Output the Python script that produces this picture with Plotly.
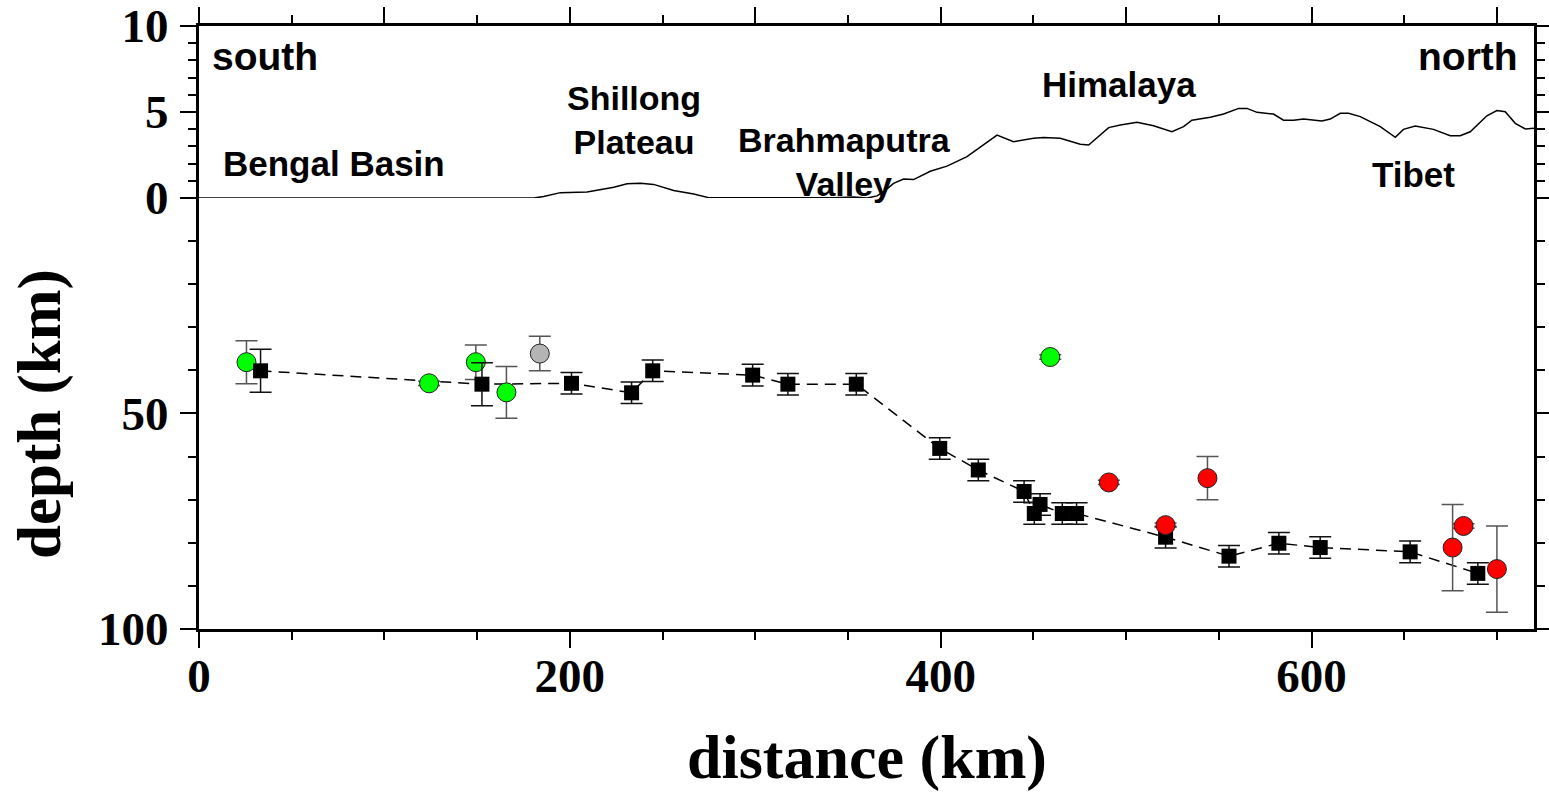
import plotly.graph_objects as go

# ---------------- data ----------------
topo_km = [0, 162.6, 180.5, 185.9, 194.9, 209.3, 223.7, 230.9, 238.1, 245.2, 256.0, 266.8,
           274.9, 342.1, 353.1, 360.3, 365.7, 369.3, 374.6, 380.0, 385.4, 394.4, 403.4,
           414.2, 423.2, 430.4, 439.3, 450.1, 455.5, 464.5, 475.3, 479.8, 490.6, 496.9,
           505.9, 514.8, 524.7, 531.0, 535.5, 545.4, 552.6, 560.7, 565.2, 570.6, 579.5,
           584.9, 590.3, 595.7, 605.6, 610.1, 615.5, 620.0, 626.3, 637.1, 645.2, 649.6,
           655.9, 665.8, 674.8, 680.2, 685.6, 694.6, 700.0, 704.5, 709.9, 715.3, 720.0]
topo_elev = [0, 0, 0, 0.08, 0.31, 0.35, 0.62, 0.83, 0.85, 0.79, 0.43, 0.23,
             0.02, 0.02, 0.06, 0.0, 0.12, 0.37, 0.85, 1.1, 1.07, 1.55, 1.85,
             2.4, 3.08, 3.66, 3.27, 3.47, 3.51, 3.47, 3.12, 3.08, 4.09, 4.24,
             4.40, 4.20, 3.85, 4.15, 4.52, 4.69, 4.88, 5.21, 5.21, 4.98, 4.88,
             4.52, 4.52, 4.59, 4.48, 4.59, 4.92, 4.92, 4.73, 4.15, 3.53, 3.99,
             4.19, 3.99, 3.62, 3.62, 3.85, 4.78, 5.08, 5.02, 4.34, 4.01, 4.05]

sq_km = [33.2, 152.6, 200.9, 233.3, 244.7, 298.6, 317.6, 354.5, 399.5, 420.3, 445.0,
         450.5, 453.6, 465.6, 473.3, 521.3, 555.5, 582.4, 604.7, 653.2, 689.7]
sq_depth = [40.1, 43.2, 43.0, 45.2, 40.1, 41.1, 43.2, 43.2, 58.1, 63.1, 68.1,
            73.2, 71.1, 73.2, 73.2, 78.7, 83.1, 80.1, 81.1, 82.1, 87.1]
sq_err = [5, 5, 2.5, 2.5, 2.5, 2.5, 2.5, 2.5, 2.5, 2.5, 2.5,
          2.5, 2.5, 2.5, 2.5, 2.5, 2.5, 2.5, 2.5, 2.5, 2.5]

green_km = [25.6, 124.1, 149.3, 165.8, 459.1]
green_depth = [38.1, 43.0, 38.1, 45.1, 36.9]
green_err = [5, 0.5, 4, 6, 0.5]

grey_km = [183.8]
grey_depth = [36.1]
grey_err = [4]

red_km = [490.7, 521.3, 543.9, 676.1, 682.0, 700.0]
red_depth = [66.0, 75.9, 65.0, 81.1, 76.1, 86.1]
red_err = [0.5, 0.5, 5, 10, 0.5, 10]

labels = [
    # text, km, elevation, xanchor, size
    ("south", 5.7, 8.2, "left", 39),
    ("north", 712.6, 8.2, "right", 39),
    ("Bengal Basin", 73.0, 2.03, "center", 35),
    ("Shillong<br>Plateau", 234.8, 4.53, "center", 34),
    ("Brahmaputra<br>Valley", 348.3, 2.09, "center", 34),
    ("Himalaya", 496.3, 6.57, "center", 35),
    ("Tibet", 654.9, 1.34, "center", 35),
]

# ---------------- figure ----------------
fig = go.Figure()

fig.add_trace(go.Scatter(x=topo_km, y=topo_elev, mode="lines",
                         line=dict(color="black", width=1.5),
                         xaxis="x2", yaxis="y", showlegend=False))

fig.add_trace(go.Scatter(x=sq_km, y=sq_depth, mode="lines",
                         line=dict(color="black", width=1.5, dash="11px,7px"),
                         xaxis="x", yaxis="y2", showlegend=False))

circ_err = dict(type="data", visible=True, thickness=1.5, width=11, color="#555555")

fig.add_trace(go.Scatter(x=green_km, y=green_depth, mode="markers",
                         marker=dict(symbol="circle", size=19, color="#00ff00",
                                     line=dict(color="#222222", width=1)),
                         error_y=dict(array=green_err, **circ_err),
                         xaxis="x", yaxis="y2", showlegend=False))
fig.add_trace(go.Scatter(x=grey_km, y=grey_depth, mode="markers",
                         marker=dict(symbol="circle", size=19, color="#b4b4b4",
                                     line=dict(color="#222222", width=1)),
                         error_y=dict(array=grey_err, **circ_err),
                         xaxis="x", yaxis="y2", showlegend=False))
fig.add_trace(go.Scatter(x=sq_km, y=sq_depth, mode="markers",
                         marker=dict(symbol="square", size=15, color="black",
                                     line=dict(color="black", width=0)),
                         error_y=dict(type="data", array=sq_err, visible=True,
                                      thickness=1.5, width=11, color="#111111"),
                         xaxis="x", yaxis="y2", showlegend=False))
fig.add_trace(go.Scatter(x=red_km, y=red_depth, mode="markers",
                         marker=dict(symbol="circle", size=19, color="#ff0000",
                                     line=dict(color="#222222", width=1)),
                         error_y=dict(array=red_err, **circ_err),
                         xaxis="x", yaxis="y2", showlegend=False))

for text, km, el, xa, sz in labels:
    fig.add_annotation(x=km, y=el, xref="x2", yref="y", text=text, showarrow=False,
                       xanchor=xa, yanchor="middle", align="center",
                       font=dict(family="Liberation Sans", size=sz, color="black", weight="bold"))

serif = "Liberation Serif"
fig.add_annotation(x=-0.1191, y=0.3566, xref="paper", yref="paper", text="depth (km)",
                   textangle=-90, showarrow=False, xanchor="center", yanchor="middle",
                   font=dict(family=serif, size=61, color="black", weight="bold"))
fig.add_annotation(x=0.5, y=-0.2123, xref="paper", yref="paper", text="distance (km)",
                   showarrow=False, xanchor="center", yanchor="middle",
                   font=dict(family=serif, size=62, color="black", weight="bold"))

tickfont = dict(family=serif, size=47, color="black", weight="bold")
common = dict(showgrid=False, zeroline=False, showline=True, linecolor="black",
              linewidth=3, ticks="outside", ticklen=16, tickwidth=2, tickcolor="black",
              automargin=False)

split = 0.7148
fig.update_layout(
    width=1549, height=796, autosize=False,
    margin=dict(l=199, r=15, t=26, b=167, pad=0, autoexpand=False),
    paper_bgcolor="white", plot_bgcolor="white",
    xaxis=dict(domain=[0, 1], anchor="y2", range=[0, 720], tickmode="array",
               tickvals=[0, 200, 400, 600], tickfont=tickfont, ticklabelstandoff=-12,
               minor=dict(tickmode="linear", tick0=0, dtick=50, ticklen=8, tickwidth=2,
                          tickcolor="black", ticks="outside", showgrid=False),
               **common),
    xaxis2=dict(domain=[0, 1], anchor="y", range=[0, 720], side="top",
                showticklabels=False, tickmode="linear", tick0=0, dtick=100,
                minor=dict(tickmode="linear", tick0=0, dtick=50, ticklen=8, tickwidth=2,
                           tickcolor="black", ticks="outside", showgrid=False),
                **common),
    yaxis=dict(domain=[split, 1], anchor="x2", range=[0, 10], tickmode="array",
               tickvals=[0, 5, 10], tickfont=tickfont, mirror="ticks", ticklabelstandoff=2,
               minor=dict(tickmode="linear", tick0=0, dtick=1, ticklen=8, tickwidth=2,
                          tickcolor="black", ticks="outside", showgrid=False),
               **common),
    yaxis2=dict(domain=[0, split], anchor="x", range=[100, 0], tickmode="array",
                tickvals=[50, 100], tickfont=tickfont, mirror="ticks", ticklabelstandoff=2,
                minor=dict(tickmode="linear", tick0=0, dtick=10, ticklen=8, tickwidth=2,
                           tickcolor="black", ticks="outside", showgrid=False),
                **common),
)

fig.write_html("out.html")
